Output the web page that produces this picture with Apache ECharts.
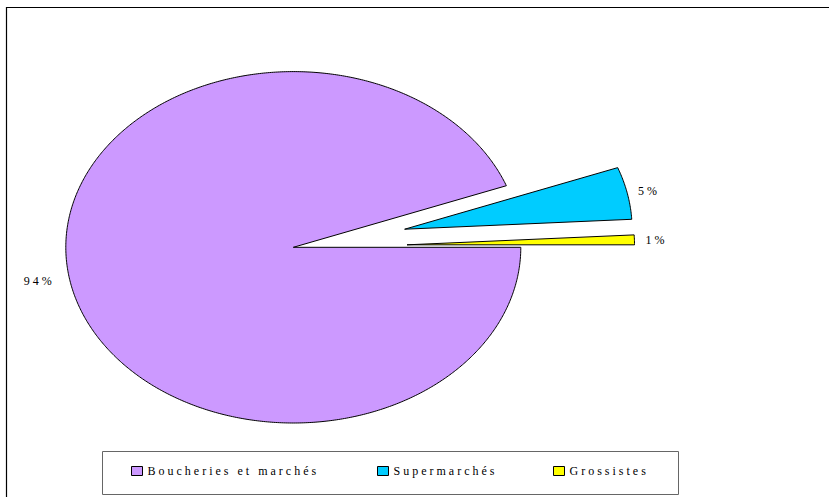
<!DOCTYPE html>
<html><head><meta charset="utf-8">
<script src="https://cdn.jsdelivr.net/npm/echarts@6/dist/echarts.min.js"></script>
<style>
html,body{margin:0;padding:0;background:#fff;}
#chart{width:829px;height:497px;}
#chart svg text{letter-spacing:3px;}
</style></head><body>
<div id="chart"></div>
<script>
// ---- data ----
const categories = ['Boucheries et marchés', 'Supermarchés', 'Grossistes'];
const values = [94.3, 4.8, 0.9];
const colors = ['#CC99FF', '#00CCFF', '#FFFF00'];

// ---- derived ----
const total = values.reduce((a, b) => a + b, 0);
const cum = [0];
values.forEach((v, i) => cum.push(cum[i] + v));
const percentLabels = values.map(v => Math.round(v / total * 100) + '%');

const START_DEG = 0;            // 3 o'clock, slices run clockwise
const EXPLODE = [0, 0.5, 0.5];  // radial offset as fraction of radius
const LEGEND_LEFT = [131, 377, 553];

function renderSlice(i) {
  return function (params, api) {
    const a0 = (START_DEG - cum[i] / total * 360) * Math.PI / 180;
    const a1 = (START_DEG - cum[i + 1] / total * 360) * Math.PI / 180;
    const am = (a0 + a1) / 2;
    const ox = EXPLODE[i] * Math.cos(am), oy = EXPLODE[i] * Math.sin(am);
    const pts = [api.coord([ox, oy])];
    const n = Math.max(4, Math.ceil(Math.abs(a1 - a0) / (Math.PI / 360)));
    for (let k = 0; k <= n; k++) {
      const a = a0 + (a1 - a0) * k / n;
      pts.push(api.coord([ox + Math.cos(a), oy + Math.sin(a)]));
    }
    const edge = api.coord([ox + Math.cos(am), oy + Math.sin(am)]);
    const dx = Math.cos(am), dy = -Math.sin(am);
    const gap = dx >= 0 ? 11 : 15;
    return {
      type: 'group',
      children: [
        { type: 'polygon', shape: { points: pts },
          style: { fill: colors[i], stroke: '#000', lineWidth: 1 } },
        { type: 'text', x: edge[0] + dx * gap, y: edge[1] + dy * gap,
          style: { text: percentLabels[i], align: dx >= 0 ? 'left' : 'right', verticalAlign: 'middle',
                   fill: '#000', fontSize: 12, fontFamily: 'Liberation Serif' } }
      ]
    };
  };
}

const chart = echarts.init(document.getElementById('chart'), null, { renderer: 'svg' });
chart.setOption({
  animation: false,
  color: colors,
  graphic: [
    { type: 'rect', shape: { x: 6.5, y: 7.5, width: 830, height: 500 },
      style: { fill: 'none', stroke: '#000', lineWidth: 1.2 }, silent: true },
    { type: 'rect', shape: { x: 102.5, y: 451.5, width: 576, height: 43 },
      style: { fill: 'none', stroke: '#666', lineWidth: 1 }, silent: true }
  ],
  grid: { left: 65.8, top: 71.6, width: 455, height: 351.4, show: false },
  xAxis: { type: 'value', min: -1, max: 1, show: false },
  yAxis: { type: 'value', min: -1, max: 1, show: false },
  legend: categories.map((c, i) => ({
    left: LEGEND_LEFT[i], top: 465, padding: 0,
    itemWidth: 11, itemHeight: 9, icon: 'rect',
    itemStyle: { borderColor: '#000', borderWidth: 1 },
    textStyle: { fontFamily: 'Liberation Serif', fontSize: 12, color: '#000' },
    data: [c]
  })),
  series: categories.map((c, i) => ({
    type: 'custom', name: c, coordinateSystem: 'cartesian2d',
    renderItem: renderSlice(i), data: [[0, 0]],
    itemStyle: { color: colors[i] }, silent: true, clip: false
  }))
});
</script>
</body></html>
